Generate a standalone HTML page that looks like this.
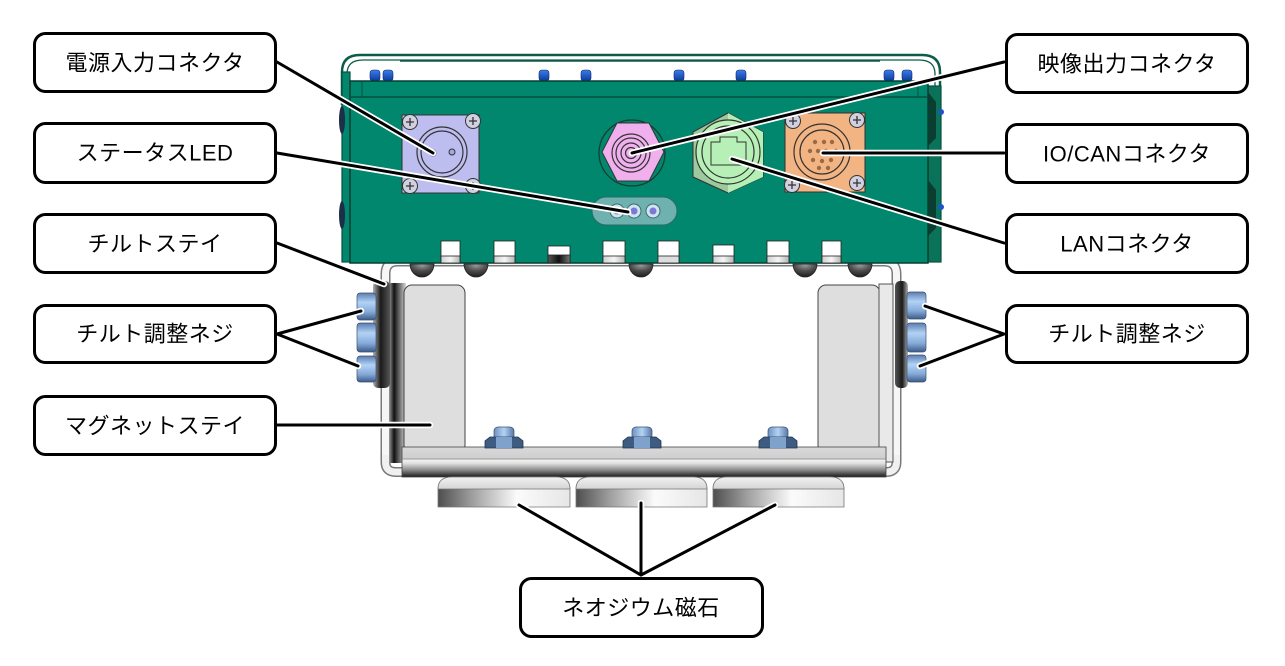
<!DOCTYPE html>
<html><head><meta charset="utf-8">
<style>
html,body{margin:0;padding:0;background:#fff;}
svg{display:block;}
text{font-family:"Liberation Sans","Noto Sans CJK JP",sans-serif;font-size:22px;fill:#000;letter-spacing:0.5px;}
</style></head><body>
<svg width="1285" height="666" viewBox="0 0 1285 666" xmlns="http://www.w3.org/2000/svg">
<defs>
  <linearGradient id="gBolt" x1="0" y1="0" x2="0" y2="1">
    <stop offset="0" stop-color="#5a7db0"/><stop offset="0.35" stop-color="#b2d2f6"/>
    <stop offset="0.7" stop-color="#86aad8"/><stop offset="1" stop-color="#3c5c8a"/>
  </linearGradient>
  <linearGradient id="gBoltH" x1="0" y1="0" x2="1" y2="0">
    <stop offset="0" stop-color="#6d90c0"/><stop offset="0.5" stop-color="#b4d2f2"/><stop offset="1" stop-color="#5878a8"/>
  </linearGradient>
  <linearGradient id="gTop" x1="0" y1="0" x2="0" y2="1">
    <stop offset="0" stop-color="#3c7ee8"/><stop offset="1" stop-color="#0c3a9c"/>
  </linearGradient>
  <linearGradient id="gColL" x1="0" y1="0" x2="1" y2="0">
    <stop offset="0" stop-color="#9a9a9a"/><stop offset="0.3" stop-color="#111"/><stop offset="1" stop-color="#d8d8d8"/>
  </linearGradient>
  <linearGradient id="gWashL" x1="0" y1="0" x2="1" y2="0">
    <stop offset="0" stop-color="#b0b0b0"/><stop offset="0.45" stop-color="#1a1a1a"/><stop offset="1" stop-color="#555"/>
  </linearGradient>
  <linearGradient id="gWashR" x1="0" y1="0" x2="1" y2="0">
    <stop offset="0" stop-color="#555"/><stop offset="0.55" stop-color="#1a1a1a"/><stop offset="1" stop-color="#b0b0b0"/>
  </linearGradient>
  <linearGradient id="gBar" x1="0" y1="0" x2="0" y2="1">
    <stop offset="0" stop-color="#dadada"/><stop offset="0.36" stop-color="#cfcfcf"/>
    <stop offset="0.42" stop-color="#f4f4f4"/><stop offset="0.55" stop-color="#dedede"/>
    <stop offset="0.78" stop-color="#858585"/><stop offset="1" stop-color="#1a1a1a"/>
  </linearGradient>
  <linearGradient id="gMag" x1="0" y1="0" x2="1" y2="0">
    <stop offset="0" stop-color="#4e4e4e"/><stop offset="0.25" stop-color="#9c9c9c"/>
    <stop offset="0.6" stop-color="#fbfbfb"/><stop offset="1" stop-color="#e6e6e6"/>
  </linearGradient>
  <linearGradient id="gCap" x1="0" y1="0" x2="0" y2="1">
    <stop offset="0" stop-color="#f2f2f2"/><stop offset="1" stop-color="#d4d4d4"/>
  </linearGradient>
  <radialGradient id="gScrew" cx="0.5" cy="0.1" r="0.9">
    <stop offset="0" stop-color="#9a9a9a"/><stop offset="0.5" stop-color="#4a4a4a"/><stop offset="1" stop-color="#1e1e1e"/>
  </radialGradient>
  <linearGradient id="gNotch" x1="0" y1="0" x2="1" y2="0">
    <stop offset="0" stop-color="#cfcfcf"/><stop offset="0.5" stop-color="#f5f5f5"/><stop offset="1" stop-color="#b5b5b5"/>
  </linearGradient>
  <linearGradient id="gNotchD" x1="0" y1="0" x2="1" y2="0">
    <stop offset="0" stop-color="#555"/><stop offset="0.5" stop-color="#111"/><stop offset="1" stop-color="#777"/>
  </linearGradient>
</defs>

<!-- handle frame -->
<path d="M342 105 L342 72 Q342 55 360 55 L922 55 Q940 55 940 72 L940 105" fill="none" stroke="#0d5c48" stroke-width="2.5"/>
<path d="M347 100 L347 74 Q347 60 363 60 L919 60 Q935 60 935 74 L935 100" fill="none" stroke="#0d5c48" stroke-width="1.3"/>
<line x1="400" y1="61" x2="880" y2="61" stroke="#0d5c48" stroke-width="1.5"/>

<!-- side brackets -->
<rect x="342" y="72" width="8" height="190" fill="#00876d" stroke="#06503f" stroke-width="1.2"/>
<ellipse cx="342" cy="120" rx="3" ry="14" fill="#1c2e48"/>
<ellipse cx="342" cy="215" rx="3" ry="14" fill="#1c2e48"/>
<rect x="928" y="86" width="13" height="176" fill="#0a7258" stroke="#06503f" stroke-width="1.2"/>
<polygon points="928,92 936,102 936,138 928,146" fill="#0b3d30"/>
<polygon points="928,180 936,190 936,228 928,236" fill="#0b3d30"/>
<circle cx="941" cy="112" r="3" fill="#1d55c8"/>
<circle cx="941" cy="207" r="3" fill="#1d55c8"/>

<!-- top blue bolts -->
<g fill="url(#gTop)" stroke="#0a2a70" stroke-width="0.6">
  <rect x="370" y="70" width="10" height="11" rx="3"/><rect x="383" y="70" width="10" height="11" rx="3"/>
  <rect x="539" y="70" width="10" height="11" rx="3"/><rect x="581" y="70" width="10" height="11" rx="3"/>
  <rect x="674" y="70" width="10" height="11" rx="3"/><rect x="736" y="70" width="10" height="11" rx="3"/>
  <rect x="884" y="70" width="10" height="11" rx="3"/><rect x="902" y="70" width="10" height="11" rx="3"/>
</g>

<!-- tilt stay (thin U bracket) -->
<path d="M385.5 462 L385.5 274 Q385.5 261.5 398 261.5 L884 261.5 Q896.5 261.5 896.5 274 L896.5 462" fill="none" stroke="#7a7a7a" stroke-width="10"/>
<path d="M385.5 462 L385.5 274 Q385.5 261.5 398 261.5 L884 261.5 Q896.5 261.5 896.5 274 L896.5 462" fill="none" stroke="#f6f6f6" stroke-width="7"/>
<path d="M385.5 455 L385.5 462 Q385.5 472 396 472 L410 472" fill="none" stroke="#7a7a7a" stroke-width="10"/>
<path d="M385.5 455 L385.5 462 Q385.5 472 396 472 L410 472" fill="none" stroke="#f0f0f0" stroke-width="7"/>
<path d="M896.5 455 L896.5 462 Q896.5 472 886 472 L872 472" fill="none" stroke="#7a7a7a" stroke-width="10"/>
<path d="M896.5 455 L896.5 462 Q896.5 472 886 472 L872 472" fill="none" stroke="#f0f0f0" stroke-width="7"/>

<!-- body -->
<rect x="350" y="81" width="578" height="182" fill="#00876d" stroke="#063f32" stroke-width="1.5"/>
<line x1="350" y1="97" x2="928" y2="97" stroke="#05503e" stroke-width="1.5"/>
<line x1="362" y1="81" x2="362" y2="97" stroke="#05503e" stroke-width="1"/>
<line x1="918" y1="81" x2="918" y2="97" stroke="#05503e" stroke-width="1"/>

<!-- notches -->
<g stroke="#222" stroke-width="0.8">
  <rect x="441" y="241" width="19" height="22" fill="#fff"/>
  <rect x="494" y="241" width="21" height="22" fill="#fff"/>
  <rect x="548" y="246" width="22" height="17" fill="#fff"/>
  <rect x="603" y="241" width="22" height="22" fill="#fff"/>
  <rect x="658" y="241" width="21" height="22" fill="#fff"/>
  <rect x="713" y="245" width="21" height="18" fill="#fff"/>
  <rect x="767" y="241" width="22" height="22" fill="#fff"/>
  <rect x="822" y="241" width="19" height="22" fill="#fff"/>
  <rect x="441" y="256" width="19" height="7" fill="url(#gNotch)"/>
  <rect x="494" y="256" width="21" height="7" fill="url(#gNotch)"/>
  <rect x="548" y="255" width="22" height="8" fill="url(#gNotchD)"/>
  <rect x="603" y="256" width="22" height="7" fill="url(#gNotch)"/>
  <rect x="658" y="256" width="21" height="7" fill="#ddd"/>
  <rect x="713" y="256" width="21" height="7" fill="url(#gNotch)"/>
  <rect x="767" y="256" width="22" height="7" fill="url(#gNotch)"/>
  <rect x="822" y="256" width="19" height="7" fill="url(#gNotch)"/>
</g>

<!-- screw heads under body -->
<g fill="url(#gScrew)" stroke="#222" stroke-width="0.8">
  <path d="M410 264 A12 13 0 0 0 434 264 Z"/>
  <path d="M464 264 A12 13 0 0 0 488 264 Z"/>
  <path d="M629 264 A12 13 0 0 0 653 264 Z"/>
  <path d="M793 264 A12 13 0 0 0 817 264 Z"/>
  <path d="M848 264 A12 13 0 0 0 872 264 Z"/>
</g>

<!-- power connector -->
<rect x="402" y="115" width="77" height="78" fill="#bdbdf0" stroke="#333" stroke-width="1"/>
<circle cx="442" cy="152" r="25" fill="none" stroke="#333" stroke-width="1.2"/>
<circle cx="442" cy="152" r="21" fill="none" stroke="#333" stroke-width="1.2"/>
<circle cx="433" cy="153" r="3" fill="#a8a8e0" stroke="#333" stroke-width="1"/>
<circle cx="452" cy="152" r="3" fill="#a8a8e0" stroke="#333" stroke-width="1"/>
<g fill="#d0d0e0" stroke="#333" stroke-width="1">
  <circle cx="410" cy="122" r="7.5"/><circle cx="473" cy="121" r="7.5"/>
  <circle cx="410" cy="186" r="7.5"/><circle cx="473" cy="186" r="7.5"/>
</g>
<g stroke="#333" stroke-width="1.3">
  <path d="M406 122h8M410 118v8M469 121h8M473 117v8M406 186h8M410 182v8M469 186h8M473 182v8"/>
</g>

<!-- video connector -->
<circle cx="632" cy="153" r="33" fill="none" stroke="#163a2e" stroke-width="1.2"/>
<polygon points="602,152 617,123 649,123 664,152 649,181 617,181" fill="#f0b0ee" stroke="#333" stroke-width="1"/>
<g fill="none" stroke="#333" stroke-width="1.2">
  <circle cx="631" cy="153" r="19"/><circle cx="631" cy="153" r="15"/>
  <circle cx="631" cy="153" r="10"/><circle cx="631" cy="153" r="5.5"/>
</g>
<circle cx="631" cy="153" r="2" fill="#333"/>

<!-- LAN connector -->
<polygon points="728,113 763,132 763,177 728,193 693,177 693,132" fill="#9ec89e" stroke="#333" stroke-width="1"/>
<polygon points="728,113 763,132 763,177 728,193 728,113" fill="#b6efb6"/>
<circle cx="728" cy="152" r="32" fill="#b6f0b6" stroke="#333" stroke-width="1.2"/>
<circle cx="728" cy="152" r="26" fill="none" stroke="#333" stroke-width="1.2"/>
<path d="M711 142 L720 142 L720 137 L737 137 L737 142 L746 142 L746 165 L711 165 Z" fill="#b6f0b6" stroke="#333" stroke-width="1"/>

<!-- IO/CAN connector -->
<rect x="785" y="113" width="80" height="79" fill="#f2b482" stroke="#333" stroke-width="1"/>
<circle cx="822" cy="152" r="28" fill="none" stroke="#333" stroke-width="1.2"/>
<circle cx="822" cy="152" r="22" fill="none" stroke="#333" stroke-width="1.2"/>
<g fill="#9a6a45">
  <circle cx="815" cy="142" r="2.2"/><circle cx="824" cy="142" r="2.2"/><circle cx="832" cy="142" r="2.2"/>
  <circle cx="810" cy="151" r="2.2"/><circle cx="818" cy="151" r="2.2"/><circle cx="836" cy="151" r="2.2"/>
  <circle cx="813" cy="160" r="2.2"/><circle cx="822" cy="161" r="2.2"/><circle cx="831" cy="160" r="2.2"/>
  <circle cx="819" cy="168" r="2.2"/><circle cx="828" cy="168" r="2.2"/><circle cx="826" cy="151" r="2.2"/>
</g>
<g fill="#d0d0e0" stroke="#333" stroke-width="1">
  <circle cx="793" cy="121" r="7.5"/><circle cx="857" cy="120" r="7.5"/>
  <circle cx="792" cy="185" r="7.5"/><circle cx="857" cy="183" r="7.5"/>
</g>
<g stroke="#333" stroke-width="1.3">
  <path d="M789 121h8M793 117v8M853 120h8M857 116v8M788 185h8M792 181v8M853 183h8M857 179v8"/>
</g>

<!-- LED strip -->
<rect x="592" y="197" width="85" height="28" rx="14" fill="#6fb1ae" stroke="#2a6b66" stroke-width="1"/>
<g stroke="#3a6a70" stroke-width="1">
  <circle cx="617" cy="211" r="7" fill="#cfe5ee"/><circle cx="634" cy="211" r="7" fill="#cfe5ee"/><circle cx="653" cy="211" r="7" fill="#cfe5ee"/>
</g>
<g fill="#7a78d8"><circle cx="617" cy="211" r="3.5"/><circle cx="634" cy="211" r="3.5"/><circle cx="653" cy="211" r="3.5"/></g>

<!-- magnet stay left -->
<rect x="389" y="283" width="17" height="180" fill="url(#gColL)"/>
<rect x="404" y="285" width="61" height="168" rx="8" fill="#dedede" stroke="#444" stroke-width="1"/>
<!-- magnet stay right -->
<rect x="818" y="285" width="62" height="168" rx="8" fill="#dedede" stroke="#444" stroke-width="1"/>
<rect x="879" y="284" width="14" height="178" fill="#e9e9e9" stroke="#555" stroke-width="1"/>

<!-- bottom bar -->
<rect x="402" y="447" width="484" height="30" fill="url(#gBar)" stroke="#444" stroke-width="0.8"/>
<line x1="402" y1="459" x2="886" y2="459" stroke="#777" stroke-width="0.8"/>

<!-- washers -->
<rect x="373" y="281" width="17" height="107" rx="5" fill="url(#gWashL)"/>
<rect x="895" y="281" width="13" height="107" rx="5" fill="url(#gWashR)"/>

<!-- tilt adjust bolts -->
<g fill="url(#gBolt)" stroke="#3a5070" stroke-width="0.7">
  <rect x="357" y="293" width="19" height="27" rx="3"/>
  <rect x="357" y="323" width="19" height="29" rx="3"/>
  <rect x="357" y="356" width="19" height="26" rx="3"/>
  <rect x="907" y="292" width="19" height="27" rx="3"/>
  <rect x="907" y="323" width="19" height="29" rx="3"/>
  <rect x="907" y="355" width="19" height="27" rx="3"/>
</g>

<!-- nuts -->
<g>
  <rect x="494" y="427" width="20" height="13" rx="4" fill="url(#gBoltH)" stroke="#3a5070" stroke-width="0.7"/>
  <polygon points="485,448 485,441 490,437 518,437 523,441 523,448" fill="#3e5c82" stroke="#22344c" stroke-width="0.8"/>
  <rect x="496" y="437" width="16" height="11" fill="#7fa2cc"/>
  <rect x="632" y="427" width="20" height="13" rx="4" fill="url(#gBoltH)" stroke="#3a5070" stroke-width="0.7"/>
  <polygon points="623,448 623,441 628,437 656,437 661,441 661,448" fill="#3e5c82" stroke="#22344c" stroke-width="0.8"/>
  <rect x="634" y="437" width="16" height="11" fill="#7fa2cc"/>
  <rect x="768" y="427" width="20" height="13" rx="4" fill="url(#gBoltH)" stroke="#3a5070" stroke-width="0.7"/>
  <polygon points="759,448 759,441 764,437 792,437 797,441 797,448" fill="#3e5c82" stroke="#22344c" stroke-width="0.8"/>
  <rect x="770" y="437" width="16" height="11" fill="#7fa2cc"/>
</g>

<!-- magnets -->
<g stroke="#777" stroke-width="0.8">
  <path d="M438 507 L438 489 Q438 477 452 477 L556 477 Q570 477 570 489 L570 507 Z" fill="url(#gMag)"/>
  <path d="M438 489 Q438 477 452 477 L556 477 Q570 477 570 489 Z" fill="url(#gCap)"/>
  <path d="M576 507 L576 489 Q576 477 590 477 L693 477 Q707 477 707 489 L707 507 Z" fill="url(#gMag)"/>
  <path d="M576 489 Q576 477 590 477 L693 477 Q707 477 707 489 Z" fill="url(#gCap)"/>
  <path d="M713 507 L713 489 Q713 477 727 477 L830 477 Q844 477 844 489 L844 507 Z" fill="url(#gMag)"/>
  <path d="M713 489 Q713 477 727 477 L830 477 Q844 477 844 489 Z" fill="url(#gCap)"/>
</g>

<!-- leader lines -->
<g fill="none" stroke="#fff" stroke-width="6.5" stroke-linecap="round" stroke-linejoin="round">
  <path d="M277 62 L433 153"/>
  <path d="M277 153 L628 212"/>
  <path d="M277 243 L384 284"/>
  <path d="M277 334 L361 311 M277 334 L358 366"/>
  <path d="M277 425 L430 425"/>
  <path d="M1004 62 L632 153"/>
  <path d="M1004 153 L823 153"/>
  <path d="M1004 243 L732 159"/>
  <path d="M1004 334 L925 306 M1004 334 L920 366"/>
  <path d="M641 575 L519 505 M641 575 L641 503 M641 575 L775 505"/>
</g>
<g fill="none" stroke="#000" stroke-width="3" stroke-linecap="round" stroke-linejoin="round">
  <path d="M277 62 L433 153"/>
  <path d="M277 153 L628 212"/>
  <path d="M277 243 L384 284"/>
  <path d="M277 334 L361 311 M277 334 L358 366"/>
  <path d="M277 425 L430 425"/>
  <path d="M1004 62 L632 153"/>
  <path d="M1004 153 L823 153"/>
  <path d="M1004 243 L732 159"/>
  <path d="M1004 334 L925 306 M1004 334 L920 366"/>
  <path d="M641 575 L519 505 M641 575 L641 503 M641 575 L775 505"/>
</g>

<!-- label boxes -->
<g fill="#fff" stroke="#000" stroke-width="3">
  <rect x="34.5" y="33.5" width="241" height="58" rx="11"/>
  <rect x="34.5" y="123.5" width="241" height="59" rx="11"/>
  <rect x="34.5" y="214.5" width="241" height="58" rx="11"/>
  <rect x="34.5" y="305.5" width="241" height="57" rx="11"/>
  <rect x="34.5" y="396.5" width="241" height="58" rx="11"/>
  <rect x="1006.5" y="34.5" width="241" height="58" rx="11"/>
  <rect x="1006.5" y="124.5" width="241" height="58" rx="11"/>
  <rect x="1006.5" y="214.5" width="241" height="58" rx="11"/>
  <rect x="1006.5" y="305.5" width="241" height="57" rx="11"/>
  <rect x="520.5" y="578.5" width="242" height="58" rx="11"/>
</g>
<g text-anchor="middle" dominant-baseline="central">
  <text x="155" y="63">電源入力コネクタ</text>
  <text x="155" y="153">ステータスLED</text>
  <text x="155" y="244">チルトステイ</text>
  <text x="155" y="334">チルト調整ネジ</text>
  <text x="155" y="426">マグネットステイ</text>
  <text x="1127" y="64">映像出力コネクタ</text>
  <text x="1127" y="154">IO/CANコネクタ</text>
  <text x="1127" y="244">LANコネクタ</text>
  <text x="1127" y="334">チルト調整ネジ</text>
  <text x="641" y="608">ネオジウム磁石</text>
</g>
</svg>
</body></html>
